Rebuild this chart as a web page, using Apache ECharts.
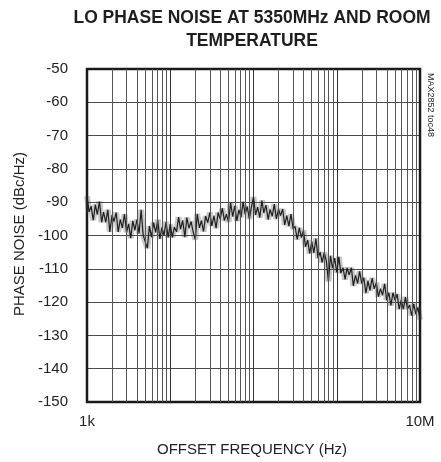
<!DOCTYPE html>
<html><head><meta charset="utf-8">
<script src="https://cdn.jsdelivr.net/npm/echarts@6/dist/echarts.min.js"></script>
<style>html,body{margin:0;padding:0;background:#fff}#c{width:441px;height:462px}</style>
</head><body><div id="c"></div>
<script>
const FONT = '"Liberation Sans",Arial,Helvetica,sans-serif';
const titleLines = ['LO PHASE NOISE AT 5350MHz AND ROOM', 'TEMPERATURE'];
const xTitle = 'OFFSET FREQUENCY (Hz)';
const yTitle = 'PHASE NOISE (dBc/Hz)';
const watermark = 'MAX2852 toc48';
const xTickLabels = {1000:'1k', 10000000:'10M'};
const minorGrid = [2e3,3e3,4e3,5e3,6e3,7e3,8e3,9e3,2e4,3e4,4e4,5e4,6e4,7e4,8e4,9e4,2e5,3e5,4e5,5e5,6e5,7e5,8e5,9e5,2e6,3e6,4e6,5e6,6e6,7e6,8e6,9e6];
const freqs = [
1.00e3,1.06e3,1.12e3,1.19e3,1.26e3,1.33e3,1.41e3,1.50e3,1.58e3,1.68e3,1.78e3,1.88e3,2.00e3,2.11e3,2.24e3,2.37e3,2.51e3,2.66e3,2.82e3,2.99e3,3.16e3,3.35e3,3.55e3,3.76e3,3.98e3,4.22e3,4.47e3,4.73e3,5.01e3,5.31e3,5.62e3,5.96e3,6.31e3,6.68e3,7.08e3,7.50e3,7.94e3,8.41e3,8.91e3,9.44e3,
1.00e4,1.06e4,1.12e4,1.19e4,1.26e4,1.33e4,1.41e4,1.50e4,1.58e4,1.68e4,1.78e4,1.88e4,2.00e4,2.11e4,2.24e4,2.37e4,2.51e4,2.66e4,2.82e4,2.99e4,3.16e4,3.35e4,3.55e4,3.76e4,3.98e4,4.22e4,4.47e4,4.73e4,5.01e4,5.31e4,5.62e4,5.96e4,6.31e4,6.68e4,7.08e4,7.50e4,7.94e4,8.41e4,8.91e4,9.44e4,
1.00e5,1.06e5,1.12e5,1.19e5,1.26e5,1.33e5,1.41e5,1.50e5,1.58e5,1.68e5,1.78e5,1.88e5,2.00e5,2.11e5,2.24e5,2.37e5,2.51e5,2.66e5,2.82e5,2.99e5,3.16e5,3.35e5,3.55e5,3.76e5,3.98e5,4.22e5,4.47e5,4.73e5,5.01e5,5.31e5,5.62e5,5.96e5,6.31e5,6.68e5,7.08e5,7.50e5,7.94e5,8.41e5,8.91e5,9.44e5,
1.00e6,1.06e6,1.12e6,1.19e6,1.26e6,1.33e6,1.41e6,1.50e6,1.58e6,1.68e6,1.78e6,1.88e6,2.00e6,2.11e6,2.24e6,2.37e6,2.51e6,2.66e6,2.82e6,2.99e6,3.16e6,3.35e6,3.55e6,3.76e6,3.98e6,4.22e6,4.47e6,4.73e6,5.01e6,5.31e6,5.62e6,5.96e6,6.31e6,6.68e6,7.08e6,7.50e6,7.94e6,8.41e6,8.91e6,9.44e6,
1.00e7];
const noise = [
-88.2,-92.9,-91.2,-95.4,-90.7,-93.7,-89.8,-96.0,-93.0,-96.0,-92.3,-98.9,-93.9,-95.8,-93.1,-98.9,-95.2,-97.7,-93.6,-99.0,-96.5,-100.8,-95.6,-98.4,-95.2,-99.4,-92.3,-99.9,-101.9,-103.8,-97.2,-100.5,-96.1,-99.1,-95.3,-101.0,-97.6,-99.9,-95.9,-100.6,
-96.6,-100.6,-97.5,-98.9,-94.5,-98.1,-95.5,-100.5,-94.6,-97.8,-95.8,-98.8,-101.2,-93.5,-97.7,-95.5,-98.8,-94.2,-96.1,-93.1,-97.1,-94.1,-97.8,-93.1,-95.1,-91.8,-95.5,-93.6,-95.9,-90.2,-94.3,-91.1,-95.6,-92.3,-94.5,-89.9,-93.6,-91.3,-95.0,-91.5,
-88.5,-93.8,-91.5,-94.6,-89.5,-93.2,-90.9,-95.2,-92.2,-94.2,-90.6,-95.0,-92.1,-94.0,-92.1,-96.8,-94.0,-97.2,-93.6,-98.0,-97.3,-101.2,-97.7,-100.6,-98.5,-103.4,-101.4,-105.4,-101.8,-105.2,-100.9,-106.8,-105.0,-108.1,-105.1,-107.7,-113.8,-106.1,-109.8,-106.8,
-111.1,-106.4,-111.3,-109.7,-113.2,-109.7,-111.8,-109.7,-115.1,-112.0,-114.4,-110.8,-114.4,-112.7,-117.3,-113.6,-116.5,-112.8,-116.0,-114.2,-118.4,-116.0,-117.9,-114.5,-119.4,-117.2,-121.0,-117.2,-119.5,-117.6,-122.1,-119.3,-122.1,-118.5,-122.1,-120.9,-124.1,-120.5,-123.6,-121.6,
-125.3];

const pts = freqs.map((f, i) => [f, noise[i]]);
const chart = echarts.init(document.getElementById('c'), null, {renderer: 'canvas'});
const G = {left: 87, right: 21, top: 69, bottom: 60};
chart.setOption({
  animation: false,
  backgroundColor: '#fff',
  grid: Object.assign({show: true, borderColor: '#1a1a1a', borderWidth: 2.5, backgroundColor: 'transparent', z: 3}, G),
  xAxis: {
    type: 'log', logBase: 10, min: 1000, max: 10000000,
    axisLine: {show: false}, axisTick: {show: false},
    splitLine: {show: true, lineStyle: {color: '#333', width: 1}},
    axisLabel: {fontFamily: FONT, fontSize: 15, color: '#222', margin: 12,
      formatter: v => xTickLabels[Math.round(v)] || ''}
  },
  yAxis: {
    type: 'value', min: -150, max: -50, interval: 10,
    axisLine: {show: false}, axisTick: {show: false},
    splitLine: {show: true, lineStyle: {color: '#4a4a4a', width: 1}},
    axisLabel: {fontFamily: FONT, fontSize: 15, color: '#222', margin: 19}
  },
  series: [
    {type: 'line', data: [], silent: true,
     markLine: {silent: true, symbol: 'none', label: {show: false},
       lineStyle: {color: '#555', width: 1, type: 'solid'},
       data: minorGrid.map(v => ({xAxis: v}))}},
    {type: 'line', data: pts, showSymbol: false, smooth: false,
     lineStyle: {color: 'rgba(70,70,70,0.3)', width: 6}},
    {type: 'line', data: pts, showSymbol: false, smooth: false,
     lineStyle: {color: '#1e1e1e', width: 1.2}}
  ],
  graphic: [
    {type: 'text', x: 252, y: 18, scaleX: 0.92, style: {text: titleLines[0], font: 'bold 19px ' + FONT, fill: '#1e1e1e', align: 'center', verticalAlign: 'middle'}},
    {type: 'text', x: 252, y: 41, scaleX: 0.92, style: {text: titleLines[1], font: 'bold 19px ' + FONT, fill: '#1e1e1e', align: 'center', verticalAlign: 'middle'}},
    {type: 'text', x: 252, y: 450, style: {text: xTitle, font: '15px ' + FONT, fill: '#222', align: 'center', verticalAlign: 'middle'}},
    {type: 'text', x: 20, y: 234, rotation: Math.PI / 2, style: {text: yTitle, font: '15px ' + FONT, fill: '#222', align: 'center', verticalAlign: 'middle'}},
    {type: 'text', x: 430, y: 105, rotation: -Math.PI / 2, style: {text: watermark, font: '9px ' + FONT, fill: '#222', align: 'center', verticalAlign: 'middle'}}
  ]
});
</script></body></html>
